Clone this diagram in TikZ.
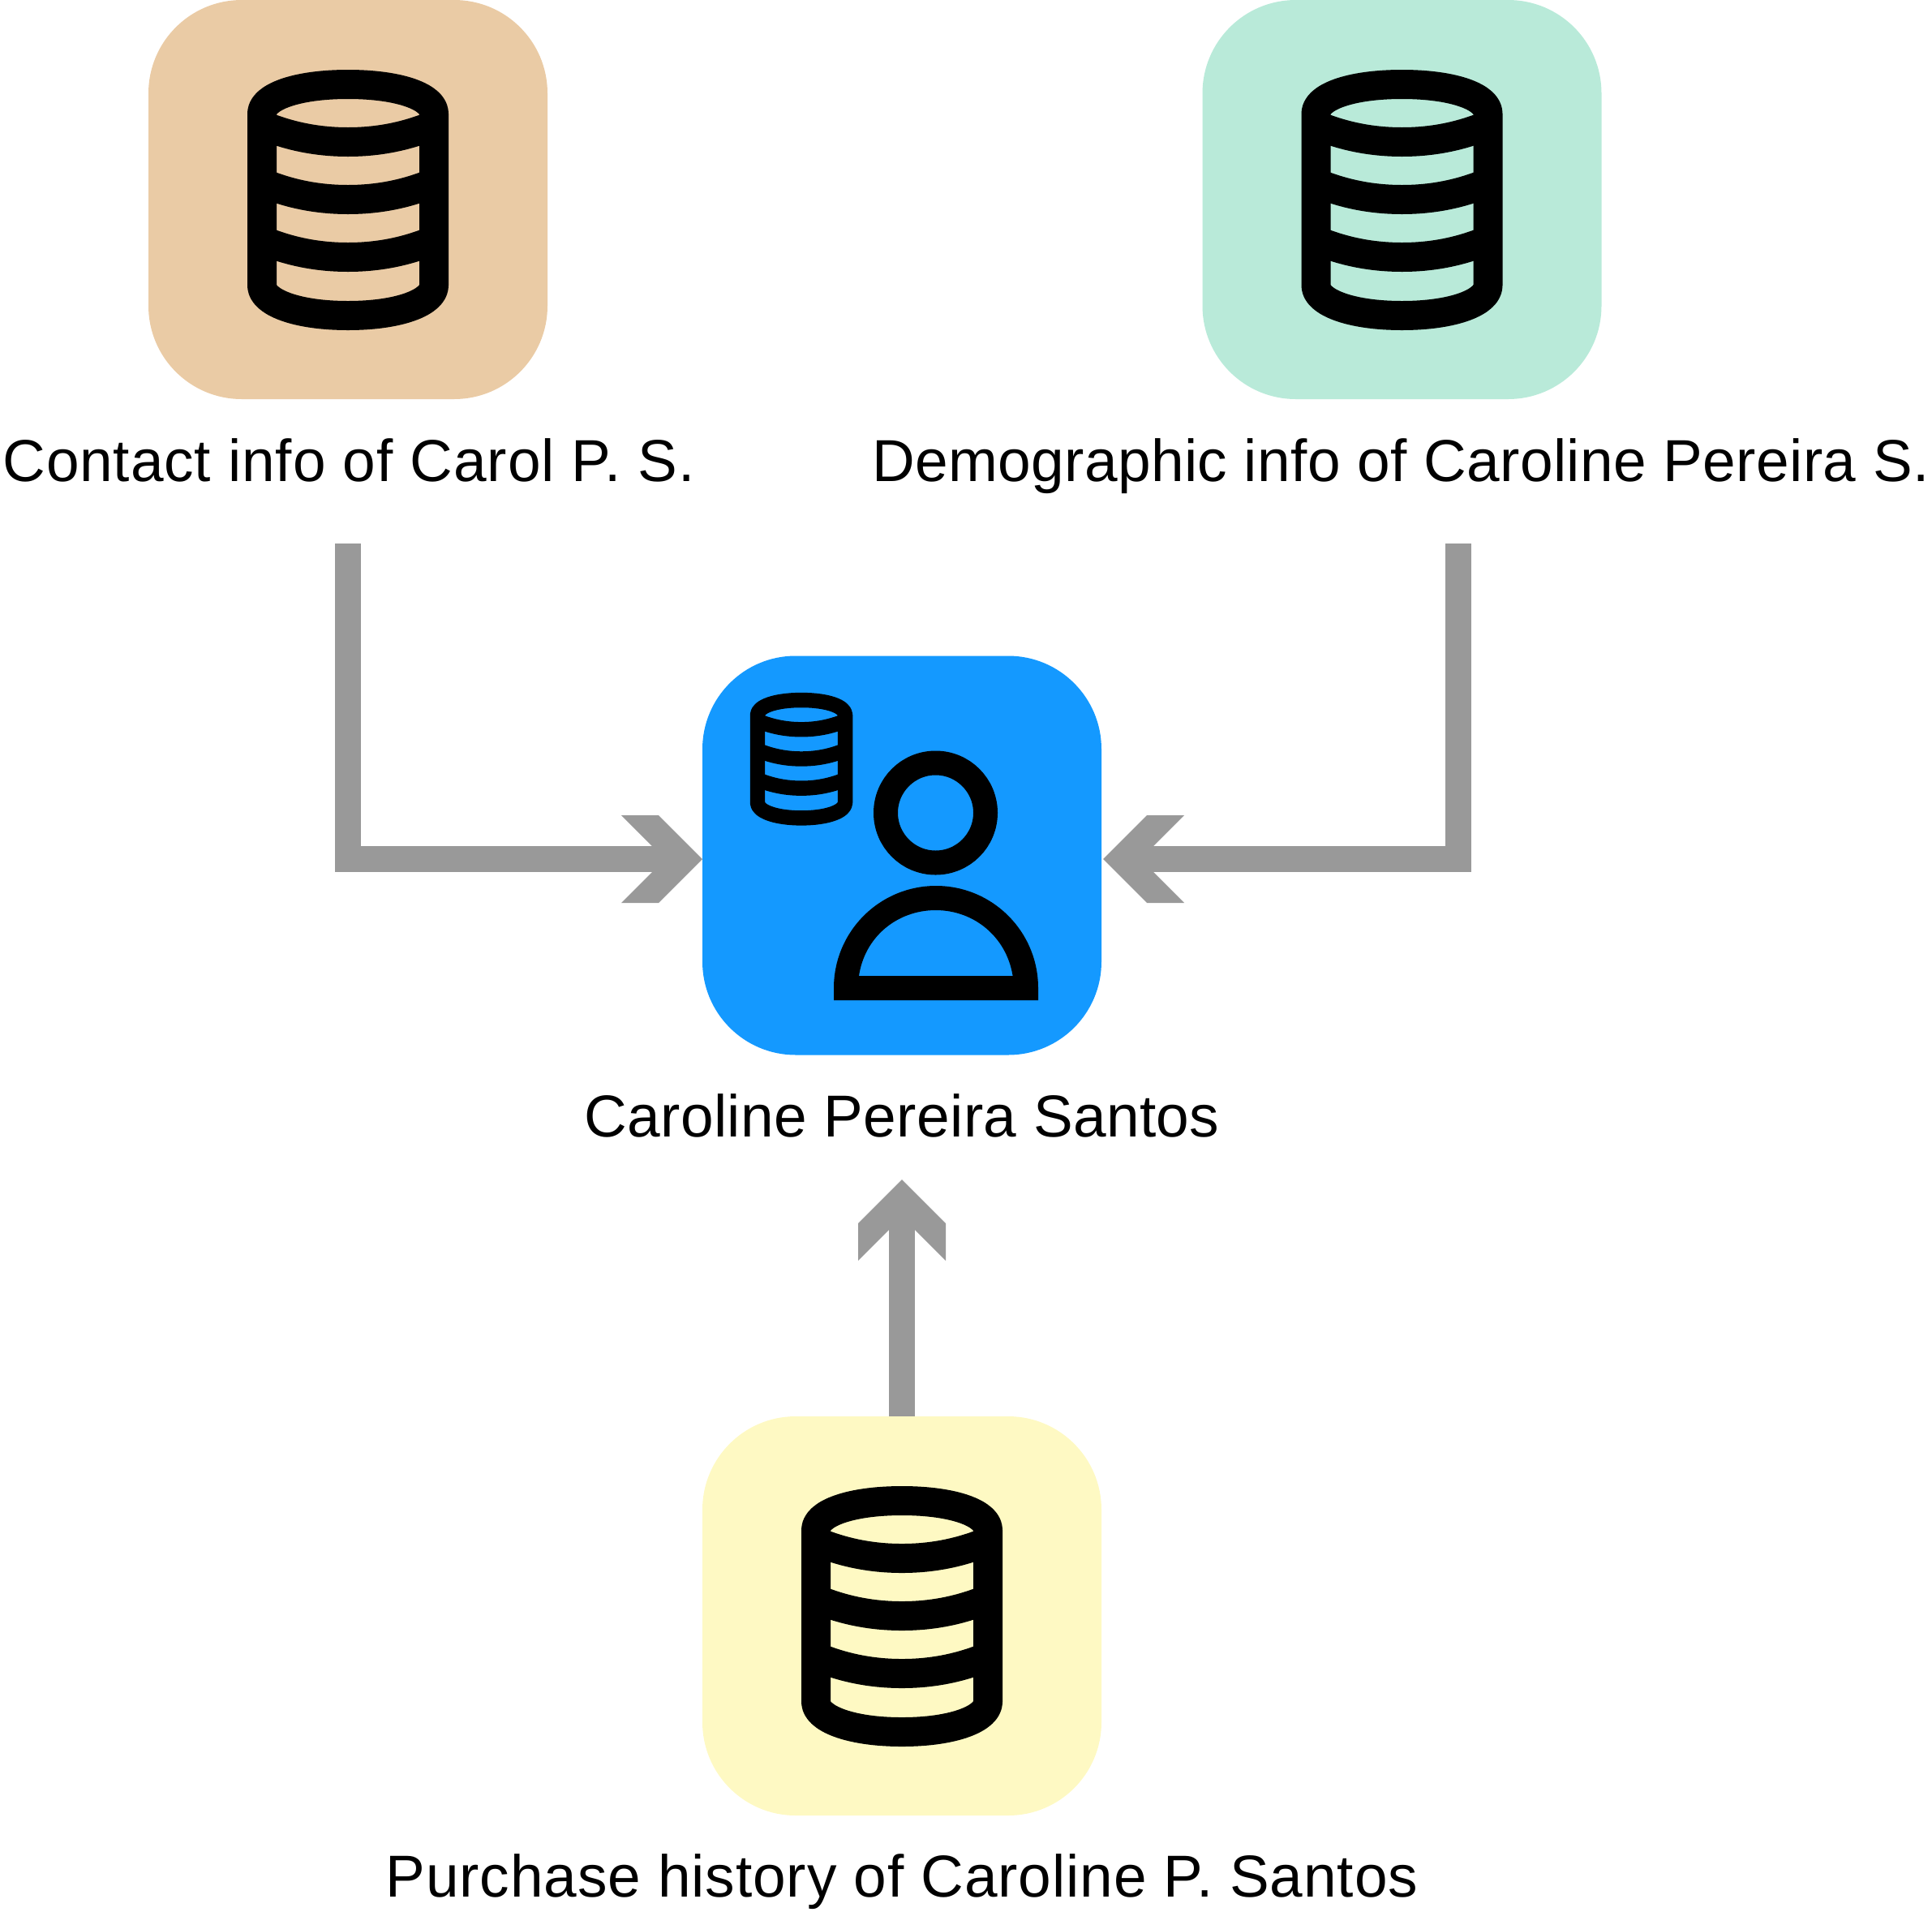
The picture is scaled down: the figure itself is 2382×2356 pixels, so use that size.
\documentclass[tikz,border=0pt]{standalone}
\usepackage{fontspec}
\setmainfont{Liberation Sans}
\newfontfamily\lblfontA[LetterSpace=1.2]{Liberation Sans}
\newfontfamily\lblfontB[LetterSpace=0.55]{Liberation Sans}
\usetikzlibrary{arrows.meta}
\definecolor{tanbox}{HTML}{EACBA5}
\definecolor{greenbox}{HTML}{B9EAD9}
\definecolor{yellowbox}{HTML}{FEF9C3}
\definecolor{bluebox}{HTML}{1499FF}
\definecolor{arrowgrey}{HTML}{999999}
\pgfdeclarearrow{
  name=Chev,
  setup code={\pgfarrowssettipend{0pt}\pgfarrowssetlineend{-50pt}\pgfarrowssetbackend{-100pt}\pgfarrowssetvisualbackend{-62pt}},
  drawing code={
    \pgfpathmoveto{\pgfqpoint{0pt}{0pt}}
    \pgfpathlineto{\pgfqpoint{-54pt}{54pt}}
    \pgfpathlineto{\pgfqpoint{-100pt}{54pt}}
    \pgfpathlineto{\pgfqpoint{-62pt}{16pt}}
    \pgfpathlineto{\pgfqpoint{-62pt}{-16pt}}
    \pgfpathlineto{\pgfqpoint{-100pt}{-54pt}}
    \pgfpathlineto{\pgfqpoint{-54pt}{-54pt}}
    \pgfpathclose
    \pgfusepathqfill
  }
}
\tikzset{
  appbox/.style={minimum width=492pt,minimum height=492pt,inner sep=0pt,rounded corners=115pt,draw=none},
  lbla/.style={anchor=base,inner sep=0pt,font=\lblfontA\fontsize{73}{80}\selectfont,text=black},
  lblb/.style={anchor=base,inner sep=0pt,font=\lblfontB\fontsize{73}{80}\selectfont,text=black},
  conn/.style={draw=arrowgrey,line width=32pt,-{Chev},line cap=butt,line join=miter},
  pics/dbicon/.style={code={
    \draw[black,line join=round,line cap=butt]
      (-106,140) .. controls (-106,120) and (-65,104) .. (0,104)
                 .. controls (65,104) and (106,120) .. (106,140)
      -- (106,352) .. controls (106,372) and (65,389) .. (0,389)
                 .. controls (-65,389) and (-106,372) .. (-106,352) -- cycle;
    \foreach \m in {175,246,317}{
      \draw[black,line cap=butt]
        (-106,\m-21) .. controls (-70,\m-6) and (-35,\m) .. (0,\m)
                     .. controls (35,\m) and (70,\m-6) .. (106,\m-21);
    }
  }}
}
\begin{document}
\begin{tikzpicture}[x=1pt,y=-1pt]
\useasboundingbox (0,0) rectangle (2382,2356);
\node[appbox,fill=tanbox] (contact) at (429,246) {};
\node[appbox,fill=greenbox] (demo) at (1728.5,246) {};
\node[appbox,fill=bluebox] (profile) at (1112,1054.5) {};
\node[appbox,fill=yellowbox] (purchase) at (1112,1992) {};
\pic[line width=36pt] at (429,0) {dbicon};
\pic[line width=36pt] at (1728.5,0) {dbicon};
\pic[line width=36pt] at (1112,1746) {dbicon};
\pic[line width=18.4pt,scale=.51] at (988,810) {dbicon};
\node[lbla] (contactlbl) at (430,593) {Contact info of Carol P. S.};
\node[lblb] (demolbl) at (1727,593) {Demographic info of Caroline Pereira S.};
\node[lblb] (profilelbl) at (1112,1401.5) {Caroline Pereira Santos};
\node[lbla] (purchaselbl) at (1112,2338.5) {Purchase history of Caroline P. Santos};
% person
\draw[black,line width=30pt] (1153.5,1002) circle[radius=61.5];
\fill[black,even odd rule]
  (1028,1233) -- (1028,1218) arc[start angle=180,end angle=360,radius=126] -- (1280,1233) -- cycle
  (1059,1203) .. controls (1066,1155) and (1106,1122) .. (1153.7,1122)
              .. controls (1201,1122) and (1241,1155) .. (1248.6,1203) -- cycle;
% connectors
\coordinate (c1) at (429,670);
\coordinate (t1) at (866,1059);
\coordinate (c2) at (1798,670);
\coordinate (t2) at (1360,1059);
\coordinate (t3) at (1112,1454);
\draw[conn] (c1) |- (t1);
\draw[conn] (c2) |- (t2);
\draw[conn] (purchase.north) -- (t3);
\end{tikzpicture}
\end{document}
